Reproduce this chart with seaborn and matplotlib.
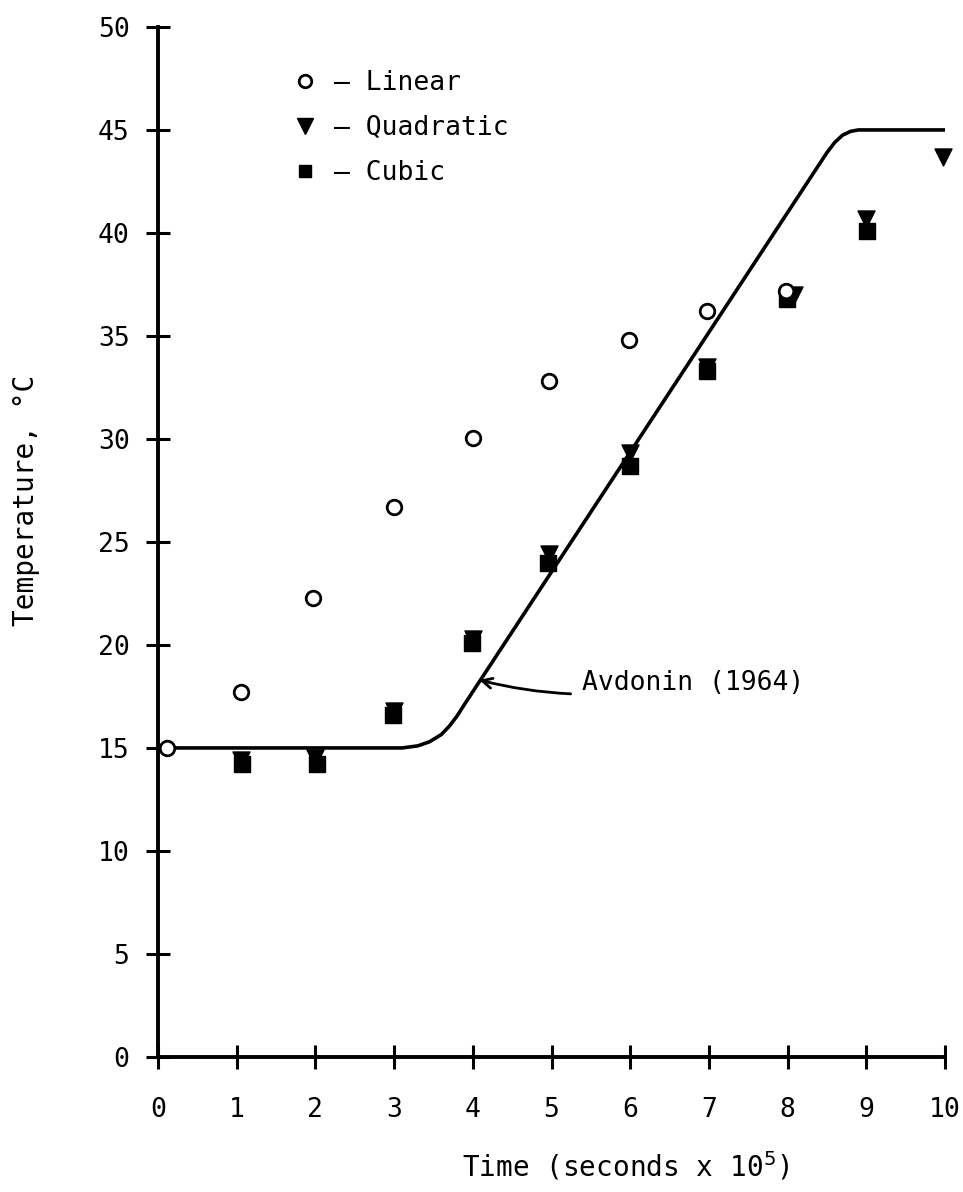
import numpy as np
import pandas as pd
import matplotlib
matplotlib.use("Agg")
import matplotlib.pyplot as plt
from matplotlib.lines import Line2D
import seaborn as sns

# Computed temperatures (deg C) versus time (seconds x 10^5)
time_linear = [0.12, 1.05, 1.97, 3.0, 4.0, 4.97, 5.98, 6.98, 7.98]
temp_linear = [15.0, 17.7, 22.3, 26.7, 30.05, 32.8, 34.8, 36.2, 37.2]

time_quadratic = [1.05, 2.0, 3.0, 4.0, 4.97, 6.0, 6.98, 8.08, 9.0, 9.97]
temp_quadratic = [14.4, 14.5, 16.8, 20.3, 24.4, 29.3, 33.5, 37.0, 40.7, 43.7]

time_cubic = [1.07, 2.02, 2.99, 3.99, 4.96, 6.0, 6.98, 7.99, 9.01]
temp_cubic = [14.2, 14.2, 16.6, 20.1, 24.0, 28.7, 33.3, 36.8, 40.1]

# Reference solution (Avdonin, 1964)
time_avdonin = [0.0, 3.1, 3.3, 3.45, 3.6, 3.7, 3.8, 3.9, 8.5, 8.6, 8.7, 8.8, 8.9, 10.0]
temp_avdonin = [15.0, 15.0, 15.1, 15.3, 15.65, 16.05, 16.55, 17.15,
                43.9, 44.4, 44.75, 44.93, 45.0, 45.0]

x_ticks = list(range(0, 11))
y_ticks = list(range(0, 51, 5))

sns.set_style("ticks")
plt.rcParams["font.family"] = ["DejaVu Sans Mono", "DejaVu Sans"]
plt.rcParams["mathtext.fontset"] = "dejavusans"
plt.rcParams["text.color"] = "black"
plt.rcParams["axes.labelcolor"] = "black"
plt.rcParams["xtick.color"] = "black"
plt.rcParams["ytick.color"] = "black"

fig = plt.figure(figsize=(9.63, 11.92), dpi=100)
ax = fig.add_axes([0.1641, 0.1133, 0.8172, 0.8641])

ref = pd.DataFrame({"t": time_avdonin, "T": temp_avdonin})
sns.lineplot(data=ref, x="t", y="T", ax=ax, color="black", linewidth=2.6,
             sort=False, estimator=None, solid_joinstyle="round")

lin = pd.DataFrame({"t": time_linear, "T": temp_linear})
quad = pd.DataFrame({"t": time_quadratic, "T": temp_quadratic})
cub = pd.DataFrame({"t": time_cubic, "T": temp_cubic})

sns.scatterplot(data=cub, x="t", y="T", ax=ax, marker="s", s=120,
                color="black", edgecolor="black", linewidth=1, clip_on=False, zorder=4)
sns.scatterplot(data=quad, x="t", y="T", ax=ax, marker="v", s=150,
                color="black", edgecolor="black", linewidth=1, clip_on=False, zorder=5)
sns.scatterplot(data=lin, x="t", y="T", ax=ax, marker="o", s=110,
                facecolor="white", edgecolor="black", linewidth=2, clip_on=False, zorder=6)

ax.set_xlim(0, 10)
ax.set_ylim(0, 50)
ax.set_xticks(x_ticks)
ax.set_yticks(y_ticks)
ax.set_xticklabels([str(v) for v in x_ticks], fontsize=19)
ax.set_yticklabels([str(v) for v in y_ticks], fontsize=19)
ax.tick_params(axis="both", direction="inout", length=17, width=2.2, color="black")
ax.tick_params(axis="x", pad=20)
ax.tick_params(axis="y", pad=12)

for side in ("top", "right"):
    ax.spines[side].set_visible(False)
for side in ("left", "bottom"):
    ax.spines[side].set_linewidth(2.8)
    ax.spines[side].set_color("black")

ax.set_xlabel("Time (seconds x 10$^5$)", fontsize=20)
ax.xaxis.set_label_coords(0.594, -0.09)
ax.set_ylabel("Temperature, °C", fontsize=20)
ax.yaxis.set_label_coords(-0.15, 0.54)

handles = [
    Line2D([], [], linestyle="none", marker="o", markersize=9, markerfacecolor="white",
           markeredgecolor="black", markeredgewidth=2),
    Line2D([], [], linestyle="none", marker="v", markersize=11, color="black"),
    Line2D([], [], linestyle="none", marker="s", markersize=9, color="black"),
]
labels = ["\u2014 Linear", "\u2014 Quadratic", "\u2014 Cubic"]
ax.legend(handles, labels, loc="upper left", bbox_to_anchor=(0.136, 0.984),
          frameon=False, fontsize=19, handlelength=1.0, handletextpad=0.6,
          labelspacing=0.72, borderaxespad=0.6)

ax.annotate("Avdonin (1964)", xy=(4.08, 18.3), xytext=(5.39, 18.15),
            fontsize=19, va="center", ha="left",
            arrowprops=dict(arrowstyle="->", color="black", lw=2,
                            connectionstyle="arc3,rad=-0.12",
                            shrinkA=6, shrinkB=0, mutation_scale=18))

fig.savefig("out.png", dpi=100, facecolor="white")
